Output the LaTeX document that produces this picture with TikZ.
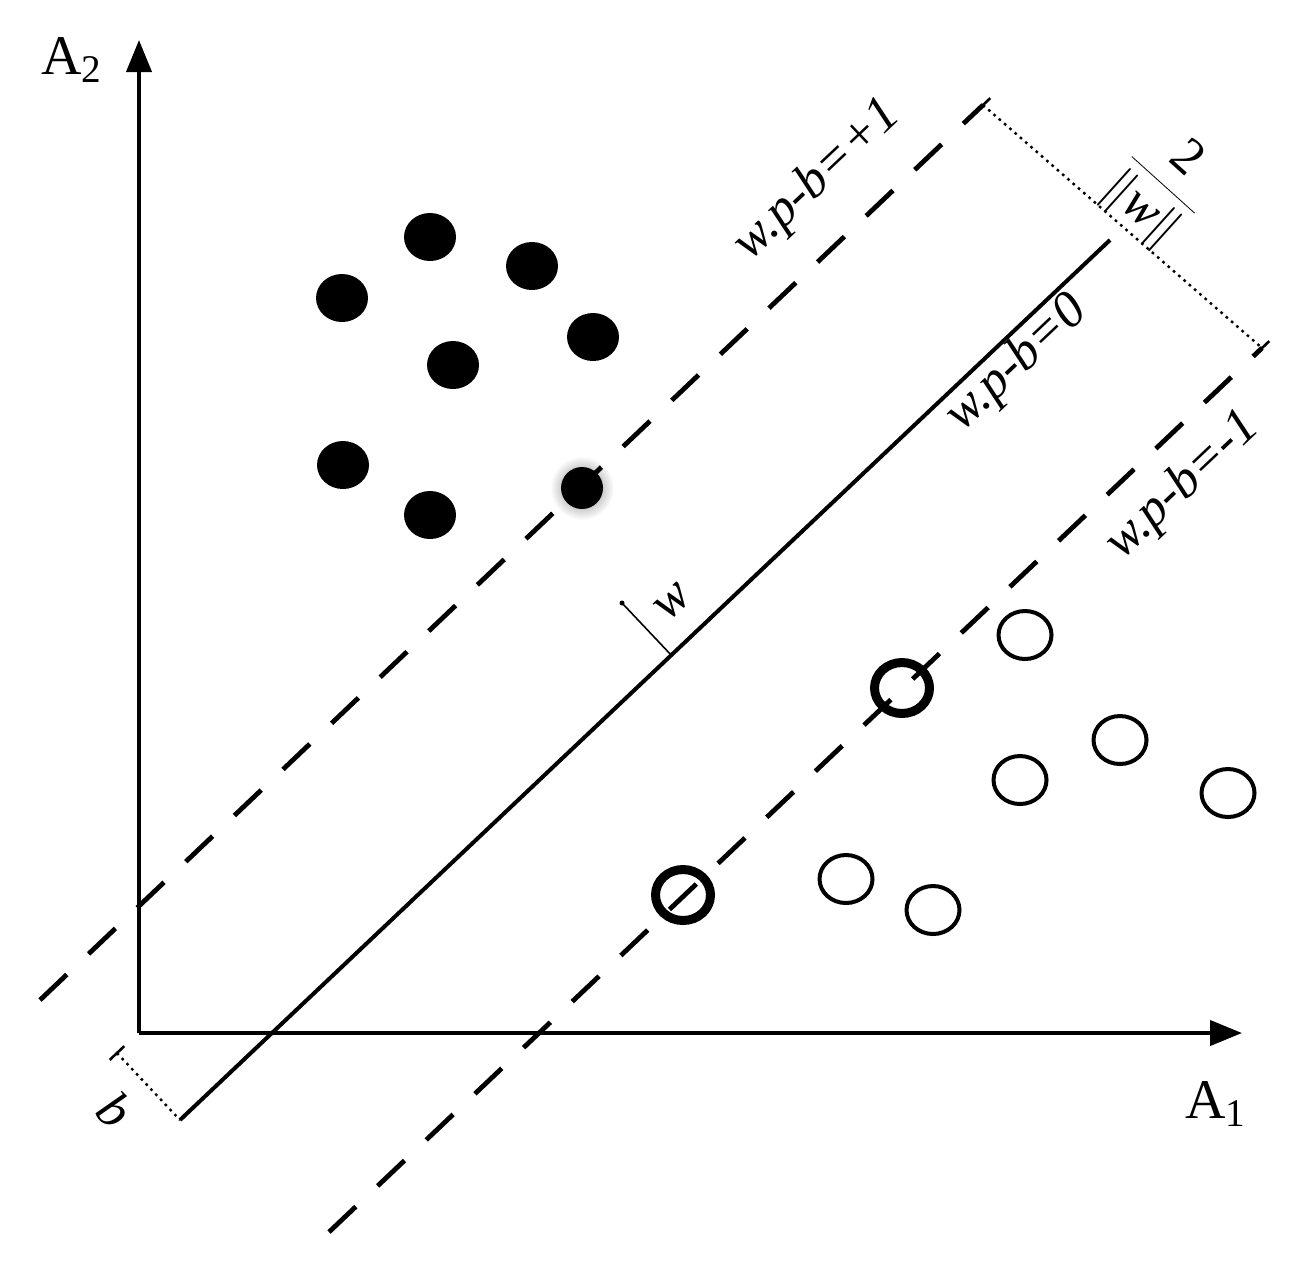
\documentclass[tikz,border=0pt]{standalone}
\usepackage{fontspec}
\setmainfont{Liberation Serif}
\usetikzlibrary{arrows.meta,calc,shapes.geometric}
\begin{document}
\begin{tikzpicture}[x=0.5pt,y=-0.5pt,
  axis/.style={line width=2pt,-{Triangle[length=16pt,width=12.5pt]}},
  hyper/.style={line width=2pt},
  margin/.style={line width=2.4pt,dash pattern=on 18.5pt off 15pt},
  dim/.style={line width=1.2pt,dash pattern=on 1.3pt off 2.2pt},
  tickmark/.style={line width=1.3pt},
  normalvec/.style={line width=0.8pt},
  lab/.style={font=\fontsize{26}{30}\selectfont\itshape,inner sep=0pt},
  axlab/.style={font=\fontsize{28}{32}\selectfont,inner sep=0pt},
  fdot/.style={ellipse,fill=black,minimum width=26pt,minimum height=24pt,inner sep=0pt},
  odot/.style={ellipse,draw=black,line width=2pt,minimum width=26.5pt,minimum height=24pt,inner sep=0pt},
  sdot/.style={ellipse,draw=black,line width=4.5pt,minimum width=27.5pt,minimum height=25.5pt,inner sep=0pt}]
\useasboundingbox (0,0) rectangle (1304,1260);

% axes
\coordinate (O) at (139,1033);
\coordinate (Ytip) at (139,40);
\coordinate (Xtip) at (1242,1033);
\draw[axis] (O) -- (Ytip);
\draw[axis] (O) -- (Xtip);
\node[axlab] (A2) at (72,60) {A\textsubscript{2}};
\node[axlab] (A1) at (1216,1104) {A\textsubscript{1}};

% filled points (class +1)
\node[fdot] (p1) at (342,298) {};
\node[fdot] (p2) at (430,237) {};
\node[fdot] (p3) at (532,266) {};
\node[fdot] (p4) at (593,337) {};
\node[fdot] (p5) at (453,365) {};
\node[fdot] (p6) at (343,465) {};
\node[fdot] (p7) at (430,515) {};
\node[circle,shading=radial,inner color=black!55,outer color=white,minimum size=32pt,inner sep=0pt] (p8h) at (582,488) {};
\node[ellipse,fill=black,minimum width=21pt,minimum height=21pt,inner sep=0pt] (p8) at (582,488) {};

% open points (class -1)
\node[odot] (q1) at (1025,635) {};
\node[odot] (q2) at (1120,740) {};
\node[odot] (q3) at (1020,780) {};
\node[odot] (q4) at (1228,793) {};
\node[odot] (q5) at (846,879) {};
\node[odot] (q6) at (933,910) {};
\node[sdot] (s1) at (902,688) {};
\node[sdot] (s2) at (683,895) {};

% hyperplanes
\coordinate (U0) at (40,1000);
\coordinate (U1) at (983,105);
\coordinate (S0) at (180,1120);
\coordinate (S1) at (1110,240);
\coordinate (L0) at (329,1232);
\coordinate (L1) at (1262,348);
\draw[margin] (U0) -- (U1);
\draw[hyper] (S0) -- (S1);
\draw[margin] (L0) -- (L1);

% margin dimension
\draw[dim] (U1) -- (L1);
\draw[tickmark] (U1) ++(-7.3,6.9) -- ++(14.6,-13.8);
\draw[tickmark] (L1) ++(-7.3,6.9) -- ++(14.6,-13.8);
\node[lab,font=\fontsize{26}{30}\selectfont,rotate=-42] (frac) at (1162,186)
  {$\displaystyle\frac{\mbox{2}}{\|\mbox{\textit{w}}\|}$};

% offset b
\coordinate (B0) at (117,1053);
\draw[dim] (B0) -- (S0);
\draw[tickmark] (B0) ++(-7.3,6.9) -- ++(14.6,-13.8);
\node[lab,rotate=-45] (blab) at (115,1110) {b};

% normal vector w
\coordinate (wq) at (622,603);
\coordinate (wf) at ($(S0)!(wq)!(S1)$);
\draw[normalvec] (wq) -- (wf);
\fill (wq) circle (2.5);
\node[lab,rotate=43.4] (wlab) at (673,602) {w};

% hyperplane labels
\node[lab,rotate=43.4] (lp) at (818,180) {w.p-b=+1};
\node[lab,rotate=43.4] (l0) at (1017,364) {w.p-b=0};
\node[lab,rotate=43.4] (lm) at (1183,486) {w.p-b=-1};
\end{tikzpicture}
\end{document}
